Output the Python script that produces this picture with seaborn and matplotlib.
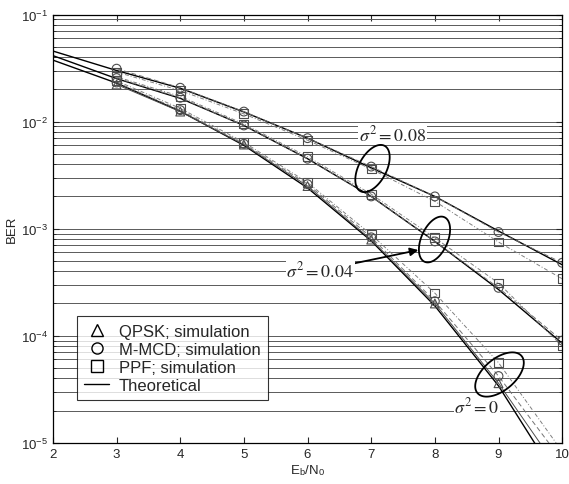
import matplotlib
matplotlib.use("Agg")
import matplotlib.pyplot as plt
from matplotlib.lines import Line2D
from matplotlib.path import Path
from matplotlib.ticker import LogLocator, NullFormatter
import seaborn as sns
import numpy as np
import pandas as pd

# Eb/N0 grid (dB)
ebn0_theory = [2, 3, 4, 5, 6, 7, 8, 9, 10]
ebn0_sim = [3, 4, 5, 6, 7, 8, 9, 10]

# theoretical BER, one curve per phase-noise variance
theory = {
    "0": [0.0375, 0.0229, 0.0125, 0.0060, 0.0024, 7.7e-4, 1.9e-4, 3.4e-5, 3.9e-6],
    "0.04": [0.0413, 0.0252, 0.0165, 0.0092, 0.0045, 0.0020, 7.6e-4, 2.7e-4, 8.5e-5],
    "0.08": [0.0456, 0.0300, 0.0205, 0.0123, 0.0070, 0.0037, 0.0020, 9.5e-4, 4.6e-4],
}

# simulated BER
qpsk_sim = {"0": [0.0222, 0.0124, 0.0061, 0.0025, 7.9e-4, 2.0e-4, 3.6e-5, 5.0e-6]}
mmcd_sim = {
    "0": [0.0232, 0.0128, 0.0062, 0.0026, 8.3e-4, 2.1e-4, 4.2e-5, 6.8e-6],
    "0.04": [0.0255, 0.0167, 0.0092, 0.0045, 0.0020, 7.6e-4, 2.8e-4, 9.0e-5],
    "0.08": [0.0312, 0.0207, 0.0124, 0.0070, 0.0038, 0.0020, 9.3e-4, 4.8e-4],
}
ppf_sim = {
    "0": [0.0240, 0.0133, 0.0064, 0.0027, 8.8e-4, 2.5e-4, 5.6e-5, 8.3e-6],
    "0.04": [0.0262, 0.0172, 0.0095, 0.0047, 0.0021, 8.2e-4, 3.1e-4, 8.0e-5],
    "0.08": [0.0290, 0.0195, 0.0118, 0.0067, 0.0036, 0.0018, 7.5e-4, 3.4e-4],
}

sns.set_style("ticks")
plt.rcParams["font.family"] = ["Liberation Sans", "DejaVu Sans"]
plt.rcParams["mathtext.fontset"] = "stix"
plt.rcParams["xtick.direction"] = "in"
plt.rcParams["ytick.direction"] = "in"

fig = plt.figure(figsize=(5.69, 4.85), dpi=100)
ax = fig.add_axes([0.093, 0.085, 0.895, 0.883])
ax.set_yscale("log")

# background grid: horizontal lines only, at every decade and sub-decade
ax.yaxis.set_minor_locator(LogLocator(base=10, subs=np.arange(2, 10)))
ax.yaxis.set_minor_formatter(NullFormatter())
ax.grid(True, axis="y", which="both", color="0.35", lw=0.7)
ax.set_axisbelow(True)

for key, vals in theory.items():
    df = pd.DataFrame({"ebn0": ebn0_theory, "ber": vals})
    sns.lineplot(data=df, x="ebn0", y="ber", ax=ax, color="black", lw=1.0,
                 estimator=None, zorder=3)

styles = [
    (qpsk_sim, "^", "-", "0.3"),
    (mmcd_sim, "o", (0, (5, 3)), "0.45"),
    (ppf_sim, "s", (0, (4, 2, 1, 2)), "0.5"),
]
for sims, mk, ls, col in styles:
    for key, vals in sims.items():
        df = pd.DataFrame({"ebn0": ebn0_sim, "ber": vals})
        sns.lineplot(data=df, x="ebn0", y="ber", ax=ax, color=col, lw=0.7,
                     linestyle=ls, estimator=None, zorder=3)
        sns.scatterplot(data=df, x="ebn0", y="ber", ax=ax, marker=mk, s=40,
                        facecolor="none", edgecolor="0.3", linewidth=0.8,
                        zorder=4)

ax.set_xlim(2, 10)
ax.set_ylim(1e-5, 1e-1)
ax.set_xticks(range(2, 11))
ax.tick_params(which="both", top=True, right=True, labelsize=9.5, length=4)
ax.tick_params(which="minor", length=2)
ax.set_xlabel(r"E$_\mathregular{b}$/N$_\mathregular{0}$", fontsize=9.5, labelpad=2)
ax.set_ylabel("BER", fontsize=9.5, labelpad=2)
for sp in ax.spines.values():
    sp.set_color("black")
    sp.set_linewidth(0.9)


# tilted ellipses marking each curve group
def ellipse_marker(a, b, angle):
    t = np.linspace(0, 2 * np.pi, 80)
    th = np.deg2rad(angle)
    xs = a * np.cos(t) * np.cos(th) - b * np.sin(t) * np.sin(th)
    ys = a * np.cos(t) * np.sin(th) + b * np.sin(t) * np.cos(th)
    return Path(np.column_stack([xs, ys]), closed=True)


ellipses = [
    (7.02, 10 ** -2.43, ellipse_marker(1.0, 0.54, 62), 34),
    (7.99, 10 ** -3.10, ellipse_marker(1.0, 0.54, 66), 33),
    (9.01, 10 ** -4.36, ellipse_marker(1.0, 0.55, 40), 35),
]
for ex, ey, path, size in ellipses:
    ax.plot([ex], [ey], marker=path, ms=size, mfc="none", mec="black",
            mew=1.3, zorder=6)

serif = ["Liberation Serif", "DejaVu Serif"]
box = dict(fc="white", ec="none", pad=0.5)
ax.text(7.33, 10 ** -2.12, r"$\sigma^2 = 0.08$", family=serif, fontsize=13,
        ha="center", va="center", bbox=box, zorder=5)
ax.text(8.66, 10 ** -4.66, r"$\sigma^2 = 0$", family=serif, fontsize=13,
        ha="center", va="center", bbox=box, zorder=5)
ax.annotate(r"$\sigma^2 = 0.04$", xy=(7.74, 10 ** -3.20),
            xytext=(6.2, 10 ** -3.39), family=serif, fontsize=13,
            ha="center", va="center", bbox=box, zorder=5,
            arrowprops=dict(arrowstyle="-|>", color="black", lw=1.3,
                            shrinkA=0, shrinkB=0, mutation_scale=12))

handles = [
    Line2D([], [], ls="none", marker="^", mfc="none", mec="black", ms=8),
    Line2D([], [], ls="none", marker="o", mfc="none", mec="black", ms=8),
    Line2D([], [], ls="none", marker="s", mfc="none", mec="black", ms=8),
    Line2D([], [], color="black", lw=1.0),
]
labels = ["QPSK; simulation", "M-MCD; simulation", "PPF; simulation", "Theoretical"]
leg = ax.legend(handles, labels, loc="lower left", bbox_to_anchor=(0.03, 0.08),
                fontsize=12, frameon=True, fancybox=False, handlelength=1.5,
                handletextpad=0.6, labelspacing=0.18, borderpad=0.45)
leg.get_frame().set_edgecolor("black")
leg.get_frame().set_linewidth(0.8)
leg.set_zorder(7)

fig.savefig("out.png", dpi=100)
